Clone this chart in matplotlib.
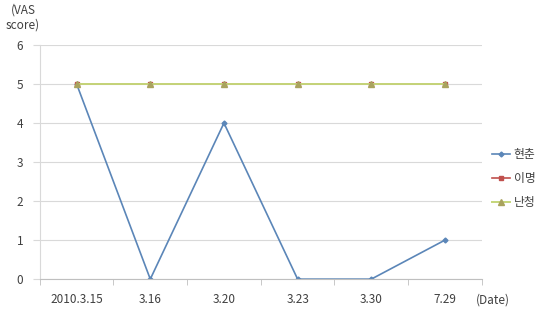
import matplotlib
matplotlib.use("Agg")
import matplotlib.pyplot as plt
import numpy as np

plt.rcParams["font.family"] = ["Noto Sans CJK KR", "DejaVu Sans"]

dates = ["2010.3.15", "3.16", "3.20", "3.23", "3.30", "7.29"]
hyunchun = [5, 0, 4, 0, 0, 1]
imyeong = [5, 5, 5, 5, 5, 5]
nancheong = [5, 5, 5, 5, 5, 5]
yticks = [0, 1, 2, 3, 4, 5, 6]

fig = plt.figure(figsize=(5.45, 3.19), dpi=100)
ax = fig.add_axes([0.073, 0.125, 0.811, 0.734])

x = np.arange(len(dates))
ax.plot(x, hyunchun, color="#5B86B8", marker="D", markersize=2.5, linewidth=1.2, label="현춘")
ax.plot(x, imyeong, color="#C0504D", marker="s", markersize=3.5, linewidth=1.2, label="이명")
ax.plot(x, nancheong, color="#C5D67A", marker="^", markersize=4.5,
        markerfacecolor="#A9A35E", markeredgecolor="#A9A35E", linewidth=1.4, label="난청")

ax.set_xlim(-0.5, len(dates) - 0.5)
ax.set_ylim(0, 6)
ax.set_yticks(yticks)
ax.set_xticks(x)
ax.set_xticklabels(dates)
ax.set_xticks(np.arange(-0.5, len(dates)), minor=True)
ax.tick_params(axis="x", which="major", length=0, pad=10, labelsize=8.5, colors="#404040")
ax.tick_params(axis="x", which="minor", length=4, color="#BFBFBF")
ax.tick_params(axis="y", length=5, color="#D9D9D9", labelsize=8.5, labelcolor="#404040", pad=7)
ax.grid(axis="y", color="#D9D9D9", linewidth=0.8)
ax.set_axisbelow(True)
for side in ["top", "right"]:
    ax.spines[side].set_visible(False)
ax.spines["left"].set_color("#D9D9D9")
ax.spines["bottom"].set_color("#BFBFBF")

fig.text(0.042, 0.9, "(VAS\nscore)", ha="center", va="bottom", fontsize=8.5, color="#404040", linespacing=1.2)
fig.text(0.905, 0.06, "(Date)", ha="center", va="center", fontsize=8.5, color="#404040")

ax.legend(loc="center left", bbox_to_anchor=(1.0, 0.43), frameon=False, fontsize=8.5,
          handlelength=1.5, labelspacing=0.95, handletextpad=0.3, labelcolor="#404040")

fig.savefig("out.png", dpi=100)
